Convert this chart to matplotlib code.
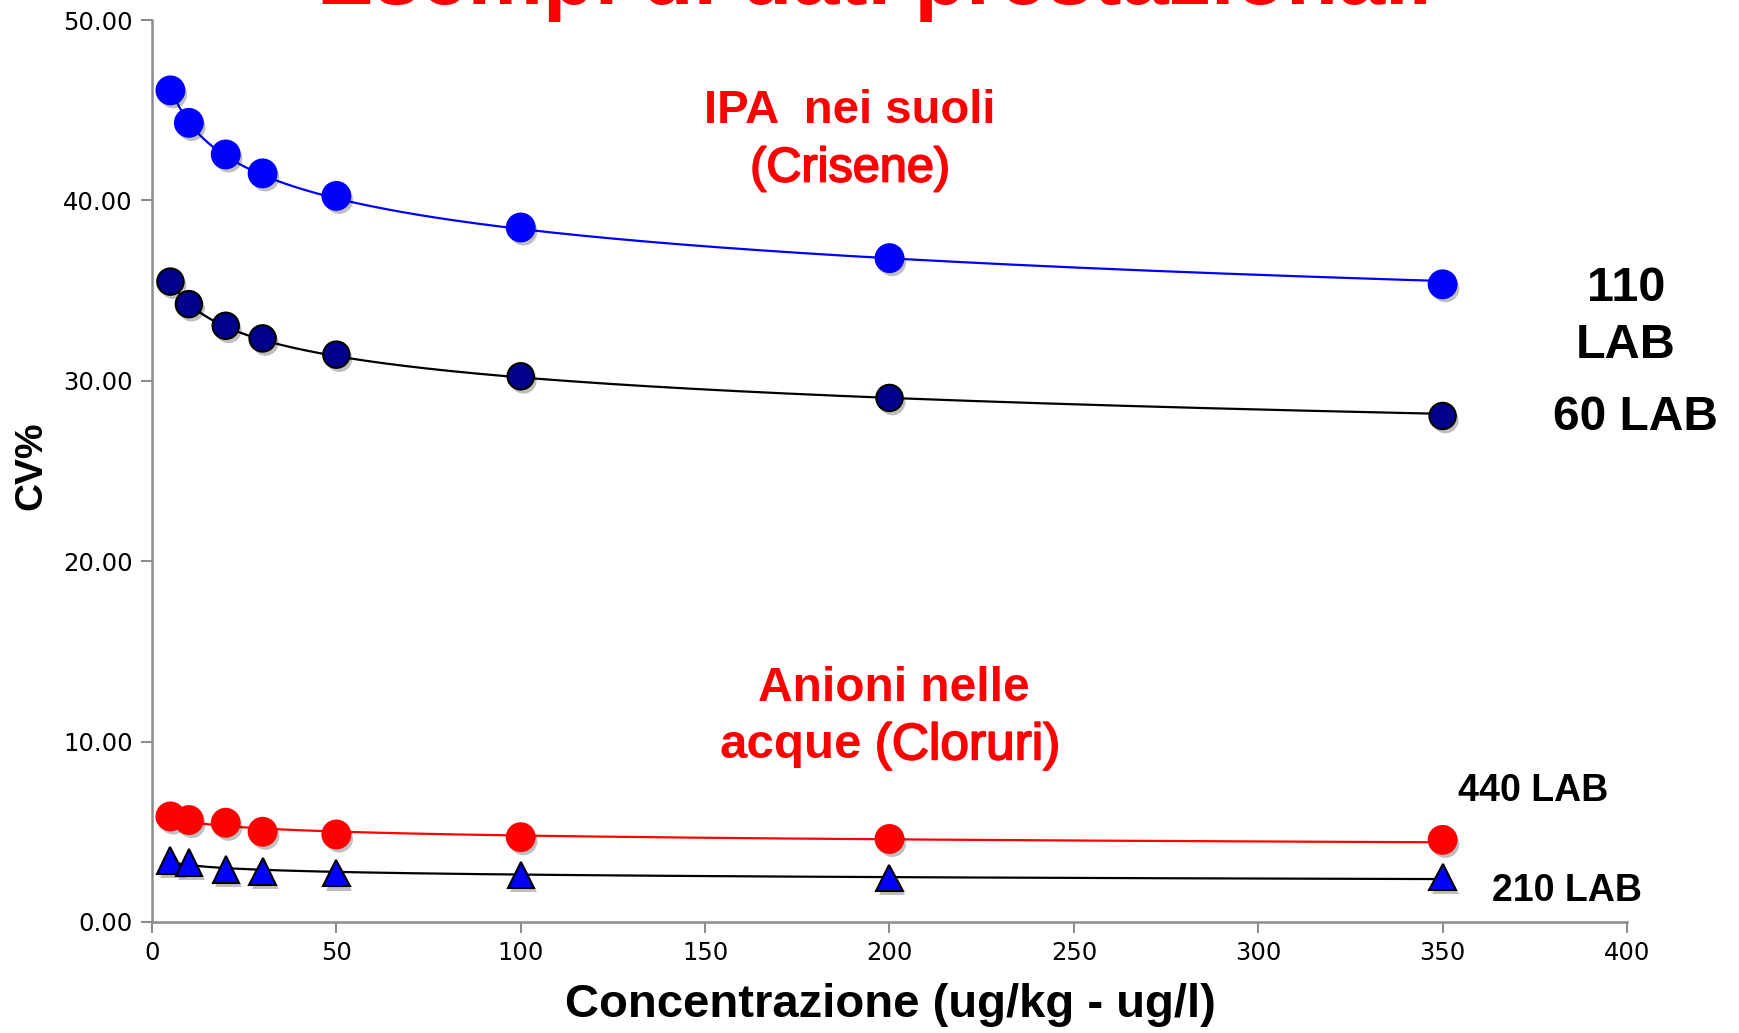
import numpy as np
import matplotlib
matplotlib.use('Agg')
import matplotlib.pyplot as plt
import matplotlib.patheffects as pe

plt.rcParams['font.family'] = ['Liberation Sans', 'DejaVu Sans']

# concentrazioni (ug/kg - ug/l)
conc = [5, 10, 20, 30, 50, 100, 200, 350]

# CV%
cv_ipa_110 = [46.1, 44.3, 42.55, 41.5, 40.25, 38.5, 36.8, 35.35]
cv_ipa_60 = [35.5, 34.25, 33.05, 32.35, 31.45, 30.25, 29.05, 28.05]
cv_cl_440 = [5.85, 5.65, 5.5, 5.0, 4.85, 4.7, 4.6, 4.55]
cv_cl_210 = [3.4, 3.3, 2.9, 2.8, 2.7, 2.6, 2.45, 2.5]

fig = plt.figure(figsize=(17.39, 10.33), dpi=100)
ax = fig.add_axes([0.0874, 0.1075, 0.8482, 0.8731])

shadow = [pe.SimplePatchShadow(offset=(2, -3), shadow_rgbFace='black', alpha=0.25), pe.Normal()]
# testo "medio" (il font originale e' piu' spesso del regular)
medium = [pe.withStroke(linewidth=1.3, foreground='red')]


def power_trend(x, y):
    # linea di tendenza di potenza come in Excel
    b, a = np.polyfit(np.log(x), np.log(y), 1)
    xs = np.linspace(min(x), max(x), 300)
    return xs, np.exp(a) * xs ** b


series = [
    (cv_ipa_110, 'o', '#0000FF', '#0000FF', '#0000FF', 20),
    (cv_ipa_60, 'o', '#00008C', 'black', 'black', 19),
    (cv_cl_440, 'o', '#FF0000', '#FF0000', '#FF0000', 20),
    (cv_cl_210, '^', '#0000FF', 'black', 'black', 19),
]

for vals, mk, fc, ec, lc, ms in series:
    xs, ys = power_trend(conc, vals)
    ax.plot(xs, ys, color=lc, lw=1.6, zorder=2)
    ax.plot(conc, vals, linestyle='none', marker=mk, markersize=ms,
            markerfacecolor=fc, markeredgecolor=ec, markeredgewidth=1.5,
            zorder=3, path_effects=shadow)

ax.set_xlim(0, 400)
ax.set_ylim(0, 50)
ax.set_xticks(np.arange(0, 401, 50))
ax.set_yticks(np.arange(0, 51, 10))
ax.yaxis.set_major_formatter(matplotlib.ticker.FormatStrFormatter('%.2f'))

for s in ['top', 'right']:
    ax.spines[s].set_visible(False)
for s in ['left', 'bottom']:
    ax.spines[s].set_color('#8c8c8c')
    ax.spines[s].set_linewidth(1.8)
ax.tick_params(direction='out', length=8, width=1.5, color='#8c8c8c',
               labelsize=17.5, pad=6)
for lab in ax.get_xticklabels() + ax.get_yticklabels():
    lab.set_fontfamily('DejaVu Sans')

ax.set_ylabel('CV%', fontsize=28, fontweight='bold')
ax.yaxis.set_label_coords(-0.082, 0.506)
ax.set_xlabel('Concentrazione (ug/kg - ug/l)', fontsize=34, fontweight='bold')
ax.xaxis.set_label_coords(0.5003, -0.092)
ax.xaxis.label.set_va('center')
ax.yaxis.label.set_va('center')

# titolo (tagliato in alto come nell'originale)
fig.text(0.503, 0.996, 'Esempi di dati prestazionali', color='red',
         fontsize=61, fontweight='bold', ha='center', va='baseline')

# testi nel grafico
ax.text(189.3, 44.96, 'IPA  nei suoli', color='red', fontsize=34,
        fontweight='bold', ha='center', va='center')
ax.text(189.3, 41.74, '(Crisene)', color='red', fontsize=35,
        ha='center', va='center', path_effects=medium)
ax.text(201.2, 12.92, 'Anioni nelle', color='red', fontsize=34.5,
        fontweight='bold', ha='center', va='center')
ax.text(153.9, 9.76, 'acque', color='red', fontsize=35.5,
        fontweight='bold', ha='left', va='center')
ax.text(196.0, 9.76, '(Cloruri)', color='red', fontsize=37,
        ha='left', va='center', path_effects=medium)

ax.text(399.7, 35.14, '110', fontsize=35, fontweight='bold', ha='center', va='center')
ax.text(399.7, 31.98, 'LAB', fontsize=35, fontweight='bold', ha='center', va='center')
ax.text(402.4, 27.99, '60 LAB', fontsize=34.5, fontweight='bold', ha='center', va='center')
ax.text(374.5, 7.26, '440 LAB', fontsize=27, fontweight='bold', ha='center', va='center')
ax.text(383.7, 1.72, '210 LAB', fontsize=27, fontweight='bold', ha='center', va='center')

fig.savefig('out.png', dpi=100)
